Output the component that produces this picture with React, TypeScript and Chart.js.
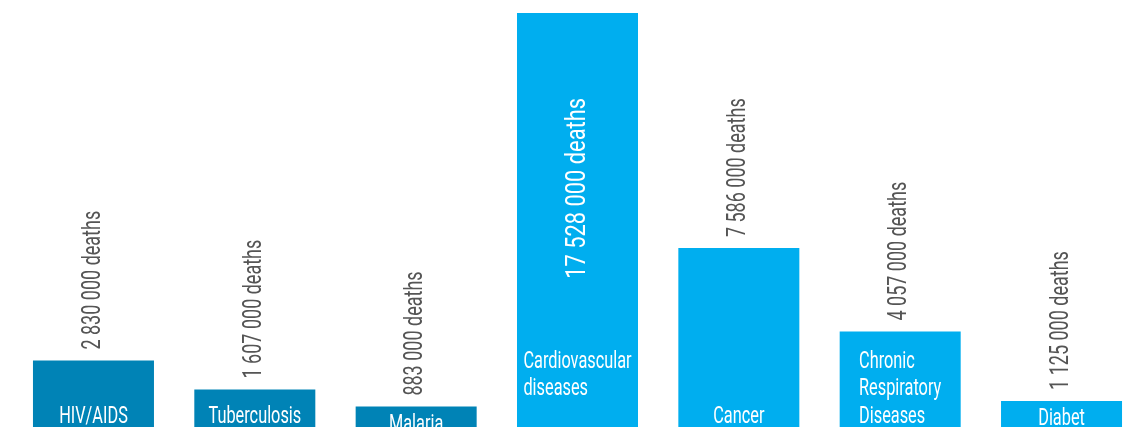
import React, { useEffect, useRef } from "react";
import { Chart, registerables } from "chart.js";

Chart.register(...registerables);

const categories = [
  "HIV/AIDS",
  "Tuberculosis",
  "Malaria",
  "Cardiovascular diseases",
  "Cancer",
  "Chronic Respiratory Diseases",
  "Diabet",
];
const categoryLines = [
  ["HIV/AIDS"],
  ["Tuberculosis"],
  ["Malaria"],
  ["Cardiovascular", "diseases", ""],
  ["Cancer"],
  ["Chronic", "Respiratory", "Diseases"],
  ["Diabet"],
];
const deaths = [2830000, 1607000, 883000, 17528000, 7586000, 4057000, 1125000];
const valueLabels = [
  "2 830 000 deaths",
  "1 607 000 deaths",
  "883 000 deaths",
  "17 528 000 deaths",
  "7 586 000 deaths",
  "4 057 000 deaths",
  "1 125 000 deaths",
];
const labelInside = [false, false, false, true, false, false, false];
const DARK = "#0083b6";
const LIGHT = "#00aeef";
const barColors = [DARK, DARK, DARK, LIGHT, LIGHT, LIGHT, LIGHT];

const FONT = "Roboto, 'Noto Sans', sans-serif";

const labelPlugin = {
  id: "barLabels",
  afterDatasetsDraw(chart: any) {
    const ctx = chart.ctx as CanvasRenderingContext2D;
    const meta = chart.getDatasetMeta(0);
    meta.data.forEach((bar: any, i: number) => {
      const x = bar.x;
      const top = bar.y;
      const base = bar.base;
      // value label (rotated)
      ctx.save();
      const inside = labelInside[i];
      ctx.fillStyle = inside ? "#ffffff" : "#555555";
      ctx.font = inside ? `28px ${FONT}` : `25px ${FONT}`;
      ctx.textBaseline = "middle";
      const sx = inside ? 0.78 : 0.72;
      if (inside) {
        ctx.translate(x, top + 85);
        ctx.rotate(-Math.PI / 2);
        ctx.scale(sx, 1);
        ctx.textAlign = "right";
        ctx.fillText(valueLabels[i], 0, 0);
      } else {
        ctx.translate(x, top - 11);
        ctx.rotate(-Math.PI / 2);
        ctx.scale(sx, 1);
        ctx.textAlign = "left";
        ctx.fillText(valueLabels[i], 0, 0);
      }
      ctx.restore();

      // category label
      ctx.save();
      ctx.fillStyle = "#ffffff";
      ctx.font = `24px ${FONT}`;
      ctx.textBaseline = "alphabetic";
      ctx.textAlign = "left";
      const csx = 0.68;
      const lines = categoryLines[i];
      const lh = 27.5;
      const maxW =
        Math.max(...lines.map((l) => ctx.measureText(l).width)) * csx;
      let first = base - 5 - (lines.length - 1) * lh;
      first = Math.max(first, top + 24);
      const left = x - maxW / 2;
      lines.forEach((l, k) => {
        ctx.save();
        ctx.translate(left, first + k * lh);
        ctx.scale(csx, 1);
        ctx.fillText(l, 0, 0);
        ctx.restore();
      });
      ctx.restore();
    });
  },
};

export default function App() {
  const ref = useRef<HTMLCanvasElement>(null);
  useEffect(() => {
    if (!ref.current) return;
    const chart = new Chart(ref.current, {
      type: "bar",
      data: {
        labels: categories,
        datasets: [
          {
            data: deaths,
            backgroundColor: barColors,
            borderWidth: 0,
            categoryPercentage: 1,
            barPercentage: 0.75,
          },
        ],
      },
      options: {
        responsive: false,
        animation: false,
        layout: { padding: { left: 12.8, right: 0.8, top: 13, bottom: 32.5 } },
        plugins: {
          legend: { display: false },
          tooltip: { enabled: false },
        },
        scales: {
          x: { display: false, grid: { display: false } },
          y: { display: false, min: 0, max: 17528000, grid: { display: false } },
        },
      },
      plugins: [labelPlugin],
    });
    return () => chart.destroy();
  }, []);
  return (
    <div
      style={{
        position: "fixed",
        left: 0,
        top: 0,
        width: 1131,
        height: 427,
        overflow: "hidden",
        background: "#ffffff",
      }}
    >
      <canvas ref={ref} width={1143} height={460} style={{ display: "block" }} />
    </div>
  );
}
